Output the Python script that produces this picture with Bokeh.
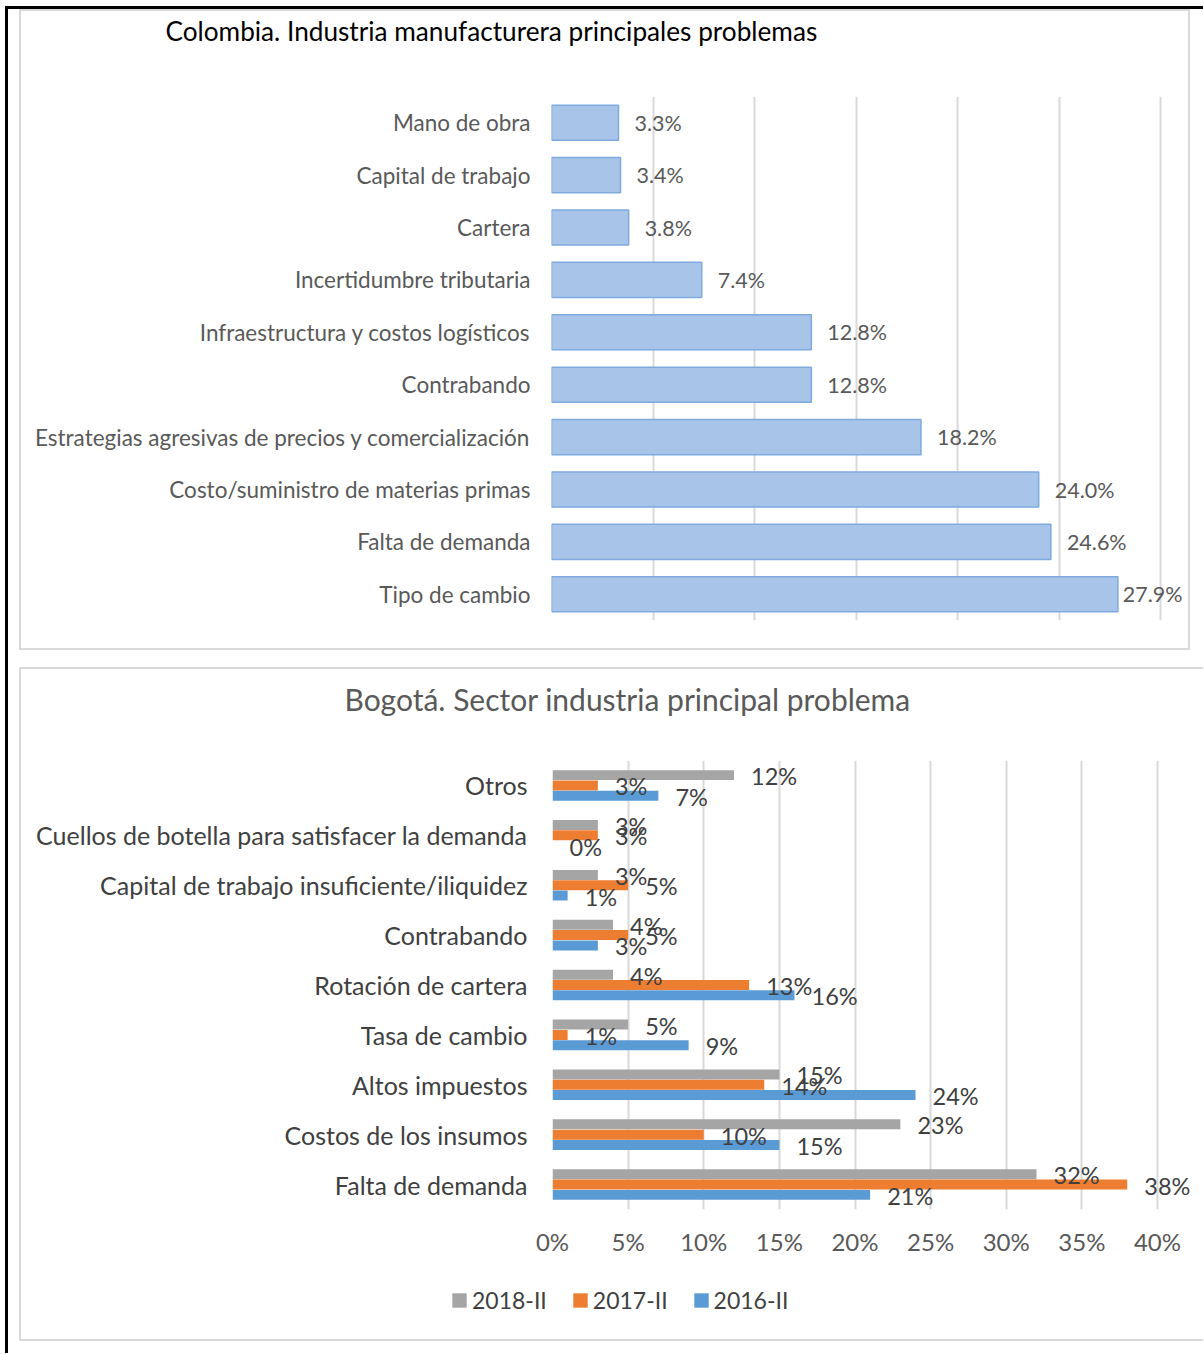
from bokeh.plotting import figure
from bokeh.models import (ColumnDataSource, LabelSet, Legend, LegendItem, FactorRange,
                          Range1d, FixedTicker, PrintfTickFormatter, Title)
from bokeh.layouts import column
from bokeh.transform import dodge
from bokeh.embed import file_html
from bokeh.resources import INLINE
from bokeh.core.properties import value

FONT = "Lato"

# ---------------- data ----------------
col_title = "Colombia. Industria manufacturera principales problemas"
col_cats = ["Mano de obra", "Capital de trabajo", "Cartera", "Incertidumbre tributaria",
            "Infraestructura y costos logísticos", "Contrabando",
            "Estrategias agresivas de precios y comercialización",
            "Costo/suministro de materias primas", "Falta de demanda", "Tipo de cambio"]
col_vals = [3.3, 3.4, 3.8, 7.4, 12.8, 12.8, 18.2, 24.0, 24.6, 27.9]
col_ticks = [0, 5, 10, 15, 20, 25, 30]

bog_title = "Bogotá. Sector industria principal problema"
bog_cats = ["Otros", "Cuellos de botella para satisfacer la demanda",
            "Capital de trabajo insuficiente/iliquidez", "Contrabando",
            "Rotación de cartera", "Tasa de cambio", "Altos impuestos",
            "Costos de los insumos", "Falta de demanda"]
bog_2018 = [12, 3, 3, 4, 4, 5, 15, 23, 32]
bog_2017 = [3, 3, 5, 5, 13, 1, 14, 10, 38]
bog_2016 = [7, 0, 1, 3, 16, 9, 24, 15, 21]
bog_ticks = [0, 5, 10, 15, 20, 25, 30, 35, 40]
series_names = ["2018-II", "2017-II", "2016-II"]
series_colors = ["#a5a5a5", "#ed7d31", "#5b9bd5"]


def add_titles(p, text, size, color, offset, spacer):
    p.add_layout(Title(text=" ", text_font_size="1px", standoff=spacer), "above")
    p.add_layout(Title(text=text, align="left", offset=offset, standoff=0,
                       text_font=FONT, text_font_size=size, text_font_style="normal",
                       text_color=color), "above")


# ---------------- top chart ----------------
W1, H1, L1 = 1167, 637, 530
px_per_unit1 = 609 / 30
frame_w1 = W1 - L1
label_w_est = 62
src1 = ColumnDataSource(dict(
    cat=col_cats, val=col_vals,
    lbl=[f"{v:.1f}%" for v in col_vals],
    xoff=[16 if v * px_per_unit1 + 16 + label_w_est < frame_w1 else 5 for v in col_vals]))
p1 = figure(width=W1, height=H1, output_backend="svg", toolbar_location=None,
            y_range=FactorRange(factors=list(reversed(col_cats))),
            x_range=Range1d(0, frame_w1 / px_per_unit1), frame_align=False,
            min_border_left=L1, min_border_right=0, min_border_top=85,
            min_border_bottom=28)
p1.hbar(y="cat", right="val", height=0.67, source=src1,
        fill_color="#a8c4e9", line_color="#7eaadf", line_width=1.5)
p1.add_layout(LabelSet(x="val", y="cat", text="lbl", source=src1, x_offset="xoff",
                       text_baseline="middle", text_font=value(FONT),
                       text_font_size="21.5px", text_color="#595959"))
p1.xaxis.visible = False
p1.xaxis.ticker = FixedTicker(ticks=col_ticks)
p1.xgrid.ticker = FixedTicker(ticks=col_ticks)
p1.xgrid.grid_line_color = "#d9d9d9"
p1.xgrid.grid_line_width = 2
p1.ygrid.grid_line_color = None
p1.yaxis.axis_line_color = None
p1.yaxis.major_tick_line_color = None
p1.yaxis.minor_tick_line_color = None
p1.yaxis.major_tick_out = 0
p1.yaxis.major_tick_in = 0
p1.yaxis.major_label_standoff = 21
p1.yaxis.major_label_text_font = FONT
p1.yaxis.major_label_text_font_size = "22.5px"
p1.yaxis.major_label_text_color = "#595959"
p1.outline_line_color = None
add_titles(p1, col_title, "26.2px", "#000000", -386, 47)

# ---------------- bottom chart ----------------
W2, H2, L2 = 1182, 610, 531
px_per_unit2 = 605 / 40
src2 = ColumnDataSource(dict(cat=bog_cats, s18=bog_2018, s17=bog_2017, s16=bog_2016,
                             l18=[f"{v}%" for v in bog_2018],
                             l17=[f"{v}%" for v in bog_2017],
                             l16=[f"{v}%" for v in bog_2016]))
p2 = figure(width=W2, height=H2, output_backend="svg", toolbar_location=None,
            y_range=FactorRange(factors=list(reversed(bog_cats))),
            x_range=Range1d(0, (W2 - L2) / px_per_unit2), frame_align=False,
            min_border_left=L2, min_border_right=0, min_border_top=91,
            min_border_bottom=70)
offsets = [0.207, 0.0, -0.207]
fields = ["s18", "s17", "s16"]
lfields = ["l18", "l17", "l16"]
for f, lf, off, c in zip(fields, lfields, offsets, series_colors):
    p2.hbar(y=dodge("cat", off, range=p2.y_range), right=f, height=0.2,
            source=src2, fill_color=c, line_color=None)
    p2.add_layout(LabelSet(x=f, y=dodge("cat", off, range=p2.y_range), text=lf,
                           source=src2, x_offset=17, y_offset=-1,
                           text_baseline="middle", text_font=value(FONT),
                           text_font_size="23.5px", text_color="#404040"))

p2.xaxis.ticker = FixedTicker(ticks=bog_ticks)
p2.xgrid.ticker = FixedTicker(ticks=bog_ticks)
p2.xaxis.formatter = PrintfTickFormatter(format="%d%%")
p2.xaxis.axis_line_color = None
p2.xaxis.major_tick_line_color = None
p2.xaxis.minor_tick_line_color = None
p2.xaxis.major_tick_out = 0
p2.xaxis.major_tick_in = 0
p2.xaxis.major_label_standoff = 17
p2.xaxis.major_label_text_font = FONT
p2.xaxis.major_label_text_font_size = "24px"
p2.xaxis.major_label_text_color = "#595959"
p2.xgrid.grid_line_color = "#d9d9d9"
p2.xgrid.grid_line_width = 2
p2.ygrid.grid_line_color = None
p2.yaxis.axis_line_color = None
p2.yaxis.major_tick_line_color = None
p2.yaxis.minor_tick_line_color = None
p2.yaxis.major_tick_out = 0
p2.yaxis.major_tick_in = 0
p2.yaxis.major_label_standoff = 25
p2.yaxis.major_label_text_font = FONT
p2.yaxis.major_label_text_font_size = "25px"
p2.yaxis.major_label_text_color = "#404040"
p2.outline_line_color = None
add_titles(p2, bog_title, "30px", "#595959", -208, 41)

# legend strip under the Bogotá chart
p_leg = figure(width=W2, height=60, output_backend="svg", toolbar_location=None,
               x_axis_type=None, y_axis_type=None, x_range=Range1d(0, 1),
               y_range=Range1d(0, 1), min_border=0, frame_align=False)
p_leg.outline_line_color = None
leg_renderers = [p_leg.hbar(y=[0.5], left=[0], right=[0], height=0.2,
                            fill_color=c, line_color=None)
                 for c in series_colors]
legend = Legend(items=[LegendItem(label=n, renderers=[r])
                       for n, r in zip(series_names, leg_renderers)],
                orientation="horizontal", location=(429, 25),
                glyph_width=18, glyph_height=18, label_standoff=4, spacing=24,
                label_width=74, padding=0, margin=0, border_line_color=None,
                background_fill_alpha=0,
                label_text_font=FONT, label_text_font_size="23px",
                label_text_color="#404040")
p_leg.add_layout(legend)

panel1 = column(p1, styles={"border": "2px solid #d9d9d9"})
panel2 = column(p2, p_leg, spacing=0,
                styles={"border-top": "2px solid #d9d9d9",
                        "border-left": "2px solid #d9d9d9",
                        "border-bottom": "2px solid #d9d9d9"})
layout = column(panel1, panel2, spacing=17,
                styles={"border-left": "3px solid black", "border-top": "3px solid black",
                        "padding-left": "11px", "padding-bottom": "12px",
                        "margin-left": "5px", "margin-top": "6px"})

open("out.html", "w").write(file_html(layout, INLINE))
